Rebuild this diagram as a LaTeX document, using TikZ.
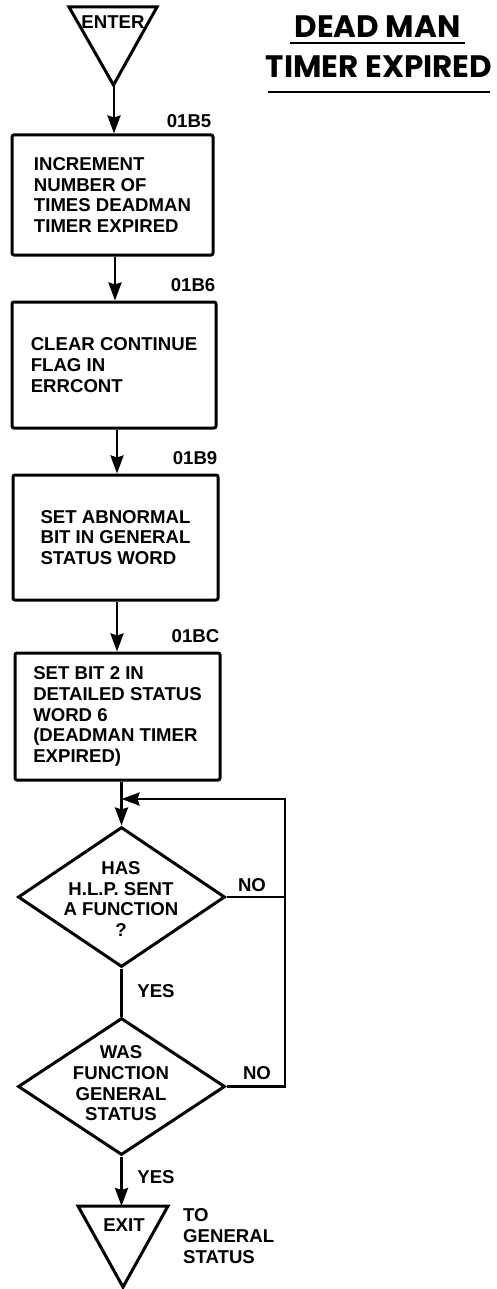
\documentclass[tikz,border=0pt]{standalone}
\usepackage{fontspec}
\setmainfont{Liberation Sans}
\newfontfamily\titlefont{Poppins}
\usetikzlibrary{shapes.geometric,arrows.meta}
\tikzset{
  body/.style={font=\fontsize{18.6}{20.7}\selectfont\bfseries},
  box/.style={draw, line width=3pt, rounded corners=2pt, inner sep=0pt, align=left, body},
  dia/.style={draw, diamond, line width=3pt, inner sep=0pt},
  lbl/.style={inner sep=0pt, body, align=left},
  addr/.style={inner sep=0pt, anchor=south east, body},
  conn/.style={line width=2.7pt},
  arrowc/.style={conn, -{Stealth[length=18pt,width=13pt,inset=2pt]}},
  tri/.style={draw, line width=3pt, line join=miter},
}
\begin{document}
\begin{tikzpicture}[x=1pt,y=-1pt]
\useasboundingbox (0,0) rectangle (497,1289);
% title
\node[inner sep=0pt, font=\titlefont\fontsize{31}{31}\selectfont\bfseries] (t1) at (377.5,27) {DEAD MAN};
\node[inner sep=0pt, font=\titlefont\fontsize{31}{31}\selectfont\bfseries] (t2) at (379,67) {TIMER EXPIRED};
\draw[line width=2.8pt] (290,43) -- (465,43);
\draw[line width=2.8pt] (268,92) -- (490,92);
% enter
\draw[tri] (69,7) -- (157,7) -- (113.5,85) -- cycle;
\node[lbl] (enter) at (113,22) {ENTER};
\coordinate (enterapex) at (114,85);
% boxes
\node[box, minimum width=201pt, minimum height=120pt] (b1) at (112.5,195)
  {INCREMENT\\NUMBER OF\\TIMES DEADMAN\\TIMER EXPIRED};
\node[addr] (a1) at ([xshift=-3pt,yshift=5.5pt]b1.north east) {01B5};
\node[box, minimum width=204pt, minimum height=126pt] (b2) at (114,365)
  {CLEAR CONTINUE\\FLAG IN\\ERRCONT};
\node[addr] (a2) at ([xshift=-2pt,yshift=8.5pt]b2.north east) {01B6};
\node[box, minimum width=205pt, minimum height=125pt] (b3) at (115.5,537.5)
  {SET ABNORMAL\\BIT IN GENERAL\\STATUS WORD};
\node[addr] (a3) at ([xshift=-2pt,yshift=9pt]b3.north east) {01B9};
\node[box, minimum width=205pt, minimum height=127pt] (b4) at (117.5,716.5)
  {SET BIT 2 IN\\DETAILED STATUS\\WORD 6\\(DEADMAN TIMER\\EXPIRED)};
\node[addr] (a4) at ([xshift=-2pt,yshift=8.5pt]b4.north east) {01BC};
% diamonds
\node[dia, minimum width=207pt, minimum height=140pt] (d1) at (121.5,897) {};
\node[lbl, align=center] (d1t) at (121,899) {HAS\\H.L.P. SENT\\A FUNCTION\\?};
\node[dia, minimum width=207pt, minimum height=137pt] (d2) at (121.5,1086.5) {};
\node[lbl, align=center] (d2t) at (121,1083.5) {WAS\\FUNCTION\\GENERAL\\STATUS};
% exit
\draw[tri] (78,1206) -- (168,1206) -- (123,1287) -- cycle;
\node[lbl] (exit) at (124,1225) {EXIT};
\coordinate (exittop) at (123,1206);
\node[lbl, anchor=west] (togs) at (183,1236) {TO\\GENERAL\\STATUS};
% connectors
\draw[arrowc] (enterapex) -- (enterapex |- b1.north);
\draw[arrowc] (b1.south -| 115,0) -- (b2.north -| 115,0);
\draw[arrowc] (b2.south -| 117,0) -- (b3.north -| 117,0);
\draw[arrowc] (b3.south -| 117,0) -- (b4.north -| 117,0);
\draw[arrowc] (d1.north |- b4.south) -- (d1.north);
\draw[conn] (d1.south) -- (d2.north);
\draw[arrowc] (d2.south) -- (d2.south |- exittop);
\coordinate (rt) at (285,799);
\draw[conn] (d1.east) -- (d1.east -| rt);
\draw[arrowc] (d2.east) -| (rt) -- (rt -| d1.north);
% labels
\node[lbl] (no1) at (252,885) {NO};
\node[lbl] (no2) at (257,1073) {NO};
\node[lbl] (yes1) at (156,991) {YES};
\node[lbl] (yes2) at (156,1177) {YES};
\end{tikzpicture}
\end{document}
